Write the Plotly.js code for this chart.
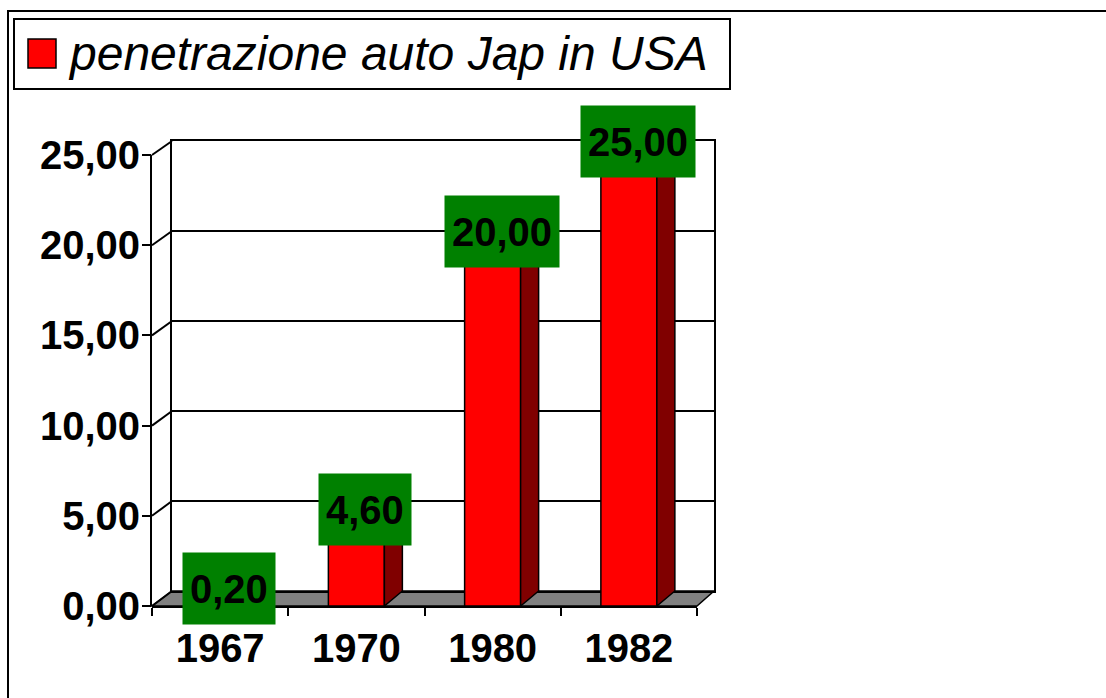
<!DOCTYPE html>
<html>
<head>
<meta charset="utf-8">
<script src="https://cdn.plot.ly/plotly-3.0.1.min.js"></script>
<style>html,body{margin:0;padding:0;background:#fff;}#chart{width:1106px;height:698px;}</style>
</head>
<body>
<div id="chart"></div>
<script>
// ---- data ----
const categories = ['1967', '1970', '1980', '1982'];
const values = [0.2, 4.6, 20, 25];
const yTicks = [0, 5, 10, 15, 20, 25];
const seriesName = 'penetrazione auto Jap in USA';

// ---- geometry (pixels) ----
const W = 1106, H = 698;
const FRONT = {l: 152, r: 697, b: 606, t: 155};
const BACK = {l: 172, r: 714, b: 591, t: 141};
const fx = p => p / W;
const fy = p => 1 - p / H;
const yMax = 25;          // axis maximum shown
const yHead = 27;         // headroom so top faces / labels are not clipped
const catPx = (FRONT.r - FRONT.l) / categories.length;
const pxPerUnit = (FRONT.b - FRONT.t) / yMax;
const depthX = 18 / catPx;          // depth offset in x data units
const depthY = 15 / pxPerUnit;      // depth offset in y data units
const barW = 56 / catPx;

const xs = categories.map((c, i) => i);
const fmt = v => v.toFixed(2).replace('.', ',');

// side faces and top faces of the 3D bars
const sideX = [], sideY = [], topX = [], topY = [];
xs.forEach((x, i) => {
  const v = values[i], r = x + barW / 2, l = x - barW / 2;
  sideX.push(r, r, r + depthX, r + depthX, r, null);
  sideY.push(0, v, v + depthY, depthY, 0, null);
  topX.push(l, r, r + depthX, l + depthX, l, null);
  topY.push(v, v, v + depthY, v + depthY, v, null);
});

const traces = [
  // anchor trace for the back wall subplot
  {type: 'scatter', mode: 'markers', x: [null], y: [null], xaxis: 'x', yaxis: 'y', hoverinfo: 'skip', showlegend: false},
  {type: 'bar', x: xs, y: values, width: barW, name: seriesName, xaxis: 'x2', yaxis: 'y2',
   marker: {color: '#ff0000', line: {color: '#000', width: 1.5}}, hoverinfo: 'skip'},
  {type: 'scatter', mode: 'lines', x: sideX, y: sideY, fill: 'toself', fillcolor: '#800000',
   line: {color: '#000', width: 1.5}, xaxis: 'x2', yaxis: 'y2', hoverinfo: 'skip', showlegend: false},
  {type: 'scatter', mode: 'lines', x: topX, y: topY, fill: 'toself', fillcolor: '#ff0000',
   line: {color: '#000', width: 1.5}, xaxis: 'x2', yaxis: 'y2', hoverinfo: 'skip', showlegend: false}
];

const FONT = 'Liberation Sans, Arial, sans-serif';

const shapes = [];
// outer frame
shapes.push({type: 'rect', xref: 'paper', yref: 'paper', x0: fx(8), x1: 1.05, y0: -0.05, y1: fy(11),
  line: {color: '#000', width: 2}, layer: 'below'});
// floor
shapes.push({type: 'path', xref: 'paper', yref: 'paper', layer: 'below',
  path: `M${fx(FRONT.l)},${fy(FRONT.b)} L${fx(FRONT.r)},${fy(FRONT.b)} L${fx(BACK.r)},${fy(BACK.b)} L${fx(BACK.l)},${fy(BACK.b)} Z`,
  fillcolor: '#808080', line: {color: '#000', width: 1.5}});
// side wall diagonals at each tick
yTicks.forEach(t => {
  const yf = FRONT.b - t * pxPerUnit;
  const yb = BACK.b - t * (BACK.b - BACK.t) / yMax;
  shapes.push({type: 'line', xref: 'paper', yref: 'paper', layer: 'below',
    x0: fx(FRONT.l), y0: fy(yf), x1: fx(BACK.l), y1: fy(yb), line: {color: '#000', width: 2}});
});
// front value axis line (0 .. 25 only)
shapes.push({type: 'line', xref: 'paper', yref: 'y2', x0: fx(FRONT.l) - 1 / W, x1: fx(FRONT.l) - 1 / W, y0: 0, y1: yMax,
  line: {color: '#000', width: 2}});
// legend box
shapes.push({type: 'rect', xref: 'paper', yref: 'paper', x0: fx(14), x1: fx(730), y0: fy(89), y1: fy(19),
  fillcolor: '#fff', line: {color: '#000', width: 2}});
shapes.push({type: 'rect', xref: 'paper', yref: 'paper', x0: fx(28), x1: fx(56), y0: fy(68), y1: fy(39),
  fillcolor: '#ff0000', line: {color: '#000', width: 1.5}});

const annotations = xs.map((x, i) => ({
  xref: 'x2', yref: 'y2', x: x + depthX / 2, y: values[i] + depthY / 2, yshift: 6,
  text: fmt(values[i]), showarrow: false, bgcolor: '#008000', borderpad: 7, height: 57,
  font: {family: FONT, size: 40, weight: 'bold', color: '#000'}
}));
annotations.push({xref: 'paper', yref: 'paper', x: fx(66), y: fy(54), xanchor: 'left', yanchor: 'middle',
  text: seriesName, showarrow: false, font: {family: FONT, size: 48, style: 'italic', color: '#000'}});

const layout = {
  width: W, height: H, margin: {l: 0, r: 0, t: 0, b: 0},
  paper_bgcolor: '#fff', plot_bgcolor: 'rgba(0,0,0,0)', showlegend: false, separators: ',.',
  font: {family: FONT, color: '#000'},
  xaxis: {domain: [fx(BACK.l), fx(BACK.r)], range: [-0.5, 3.5], anchor: 'y', showgrid: false, zeroline: false,
    showticklabels: false, ticks: '', showline: true, mirror: true, linecolor: '#000', linewidth: 2, fixedrange: true},
  yaxis: {domain: [fy(BACK.b), fy(BACK.t)], range: [0, yMax], anchor: 'x', tickvals: yTicks, showgrid: true,
    gridcolor: '#000', gridwidth: 2, showticklabels: false, ticks: '', showline: true, mirror: true,
    linecolor: '#000', linewidth: 2, zeroline: false, fixedrange: true},
  xaxis2: {domain: [fx(FRONT.l), fx(FRONT.r)], range: [-0.5, 3.5], anchor: 'y2', tickvals: xs, ticktext: categories,
    ticks: '', showline: true, linecolor: '#000', linewidth: 2, showgrid: false, zeroline: false, fixedrange: true,
    tickfont: {family: FONT, size: 40, weight: 'bold', color: '#000'}, ticklabelstandoff: 6,
    minor: {tickvals: [-0.5, 0.5, 1.5, 2.5, 3.5], ticks: 'outside', ticklen: 8, tickwidth: 2, tickcolor: '#000', showgrid: false}},
  yaxis2: {domain: [fy(FRONT.b), fy(FRONT.b - yHead * pxPerUnit)], range: [0, yHead], anchor: 'x2', tickvals: yTicks, tickformat: '.2f',
    ticks: 'outside', ticklen: 9, tickwidth: 2, tickcolor: '#000', showline: false, ticklabelstandoff: -6,
    showgrid: false, zeroline: false, fixedrange: true,
    tickfont: {family: FONT, size: 40, weight: 'bold', color: '#000'}},
  shapes: shapes,
  annotations: annotations
};

Plotly.newPlot('chart', traces, layout, {displayModeBar: false, staticPlot: true});
</script>
</body>
</html>
